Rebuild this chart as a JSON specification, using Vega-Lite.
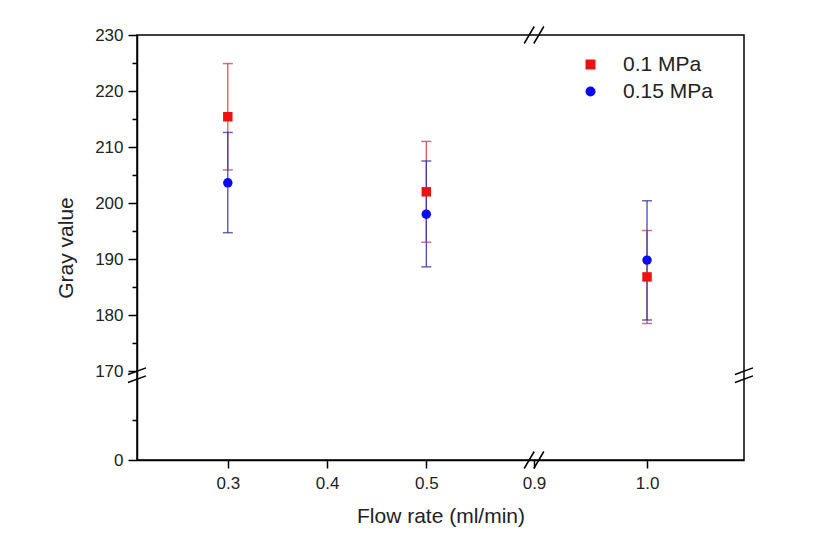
{
  "$schema": "https://vega.github.io/schema/vega-lite/v6.json",
  "width": 607,
  "height": 425,
  "autosize": {"type": "none"},
  "padding": {"left": 137, "top": 35, "right": 90, "bottom": 80},
  "background": "white",
  "config": {
    "view": {"stroke": "black", "strokeWidth": 1.5},
    "font": "Liberation Sans",
    "axis": {
      "grid": false,
      "domainColor": "black",
      "domainWidth": 1.5,
      "tickColor": "black",
      "tickWidth": 1.5,
      "labelColor": "#222222",
      "titleColor": "#222222",
      "labelFont": "Liberation Sans",
      "titleFont": "Liberation Sans",
      "titleFontWeight": "normal",
      "labelFontSize": 17,
      "titleFontSize": 21
    },
    "legend": {
      "labelFontSize": 21,
      "labelFont": "Liberation Sans",
      "labelColor": "#222222",
      "symbolSize": 100,
      "labelOffset": 22,
      "rowPadding": 5,
      "padding": 0
    }
  },
  "datasets": {
    "stats": [
      {"flow": 0.3, "p": "0.1 MPa", "mean": 215.4, "lo": 205.9, "hi": 224.9},
      {"flow": 0.5, "p": "0.1 MPa", "mean": 202.0, "lo": 193.0, "hi": 211.0},
      {"flow": 1.0, "p": "0.1 MPa", "mean": 186.8, "lo": 178.5, "hi": 195.1},
      {"flow": 0.3, "p": "0.15 MPa", "mean": 203.6, "lo": 194.7, "hi": 212.6},
      {"flow": 0.5, "p": "0.15 MPa", "mean": 198.0, "lo": 188.6, "hi": 207.5},
      {"flow": 1.0, "p": "0.15 MPa", "mean": 189.8, "lo": 179.1, "hi": 200.4}
    ],
    "breaks": [
      {"bx": 0.9, "by": 230, "kind": "x"},
      {"bx": 0.9, "by": 0, "kind": "x"},
      {"bx": 0.2085, "by": 162, "kind": "y"},
      {"bx": 1.0858, "by": 162, "kind": "y"}
    ]
  },
  "encoding": {
    "x": {
      "field": "flow", "type": "quantitative", "title": "Flow rate (ml/min)",
      "scale": {"domain": [0.2085, 0.6075, 0.9, 1.0858], "range": [0, 396, 397, 607], "nice": false, "zero": false},
      "axis": {"values": [0.3, 0.4, 0.5, 0.9, 1.0], "format": ".1f", "tickSize": 8, "labelPadding": 7, "titlePadding": 14}
    },
    "y": {
      "field": "mean", "type": "quantitative", "title": "Gray value",
      "scale": {"domain": [0, 170, 230], "range": [425, 336, 0], "nice": false, "zero": false},
      "axis": {
        "values": [0, 77, 170, 175, 180, 185, 190, 195, 200, 205, 210, 215, 220, 225, 230],
        "format": "d",
        "labelExpr": "indexof([0,170,180,190,200,210,220,230], datum.value) >= 0 ? datum.label : ''",
        "tickSize": {"condition": {"test": "indexof([0,170,180,190,200,210,220,230], datum.value) >= 0", "value": 9}, "value": 5},
        "labelPadding": 5,
        "titlePadding": 18
      }
    }
  },
  "layer": [
    {
      "data": {"name": "stats"},
      "transform": [{"filter": "datum.p === '0.1 MPa'"}],
      "mark": {"type": "rule", "strokeWidth": 1.2, "color": "#e04848"},
      "encoding": {"y": {"field": "lo"}, "y2": {"field": "hi"}}
    },
    {
      "data": {"name": "stats"},
      "transform": [{"filter": "datum.p === '0.15 MPa'"}],
      "mark": {"type": "rule", "strokeWidth": 1.2, "color": "#3a3ab8"},
      "encoding": {"y": {"field": "lo"}, "y2": {"field": "hi"}}
    },
    {
      "data": {"name": "stats"},
      "transform": [{"filter": "datum.p === '0.1 MPa'"}],
      "mark": {"type": "tick", "orient": "horizontal", "size": 10, "thickness": 1.5, "color": "#a83a6a"},
      "encoding": {"y": {"field": "lo"}}
    },
    {
      "data": {"name": "stats"},
      "transform": [{"filter": "datum.p === '0.1 MPa'"}],
      "mark": {"type": "tick", "orient": "horizontal", "size": 10, "thickness": 1.5, "color": "#a83a6a"},
      "encoding": {"y": {"field": "hi"}}
    },
    {
      "data": {"name": "stats"},
      "transform": [{"filter": "datum.p === '0.15 MPa'"}],
      "mark": {"type": "tick", "orient": "horizontal", "size": 10, "thickness": 1.5, "color": "#2a2a90"},
      "encoding": {"y": {"field": "lo"}}
    },
    {
      "data": {"name": "stats"},
      "transform": [{"filter": "datum.p === '0.15 MPa'"}],
      "mark": {"type": "tick", "orient": "horizontal", "size": 10, "thickness": 1.5, "color": "#2a2a90"},
      "encoding": {"y": {"field": "hi"}}
    },
    {
      "data": {"name": "stats"},
      "mark": {"type": "point", "filled": true, "opacity": 1, "size": 90},
      "encoding": {
        "color": {
          "field": "p", "type": "nominal",
          "scale": {"domain": ["0.1 MPa", "0.15 MPa"], "range": ["#ee1111", "#0a0aee"]},
          "legend": {"title": null, "orient": "none", "legendX": 443, "legendY": 19}
        },
        "shape": {
          "field": "p", "type": "nominal",
          "scale": {"domain": ["0.1 MPa", "0.15 MPa"], "range": ["square", "circle"]},
          "legend": {"title": null, "orient": "none", "legendX": 443, "legendY": 19}
        }
      }
    },
    {
      "data": {"name": "breaks"},
      "transform": [{"filter": "datum.kind === 'x'"}],
      "mark": {"type": "point", "filled": false, "shape": "M-0.98,0.85L0.02,-0.85M-0.02,0.85L0.98,-0.85", "size": 400, "stroke": "black", "strokeWidth": 1.5, "opacity": 1},
      "encoding": {"x": {"field": "bx"}, "y": {"field": "by"}}
    },
    {
      "data": {"name": "breaks"},
      "transform": [{"filter": "datum.kind === 'y'"}],
      "mark": {"type": "point", "filled": false, "shape": "M-0.9,-0.07L0.9,-0.73M-0.9,0.73L0.9,0.07", "size": 400, "stroke": "black", "strokeWidth": 1.5, "opacity": 1},
      "encoding": {"x": {"field": "bx"}, "y": {"field": "by"}}
    }
  ]
}
